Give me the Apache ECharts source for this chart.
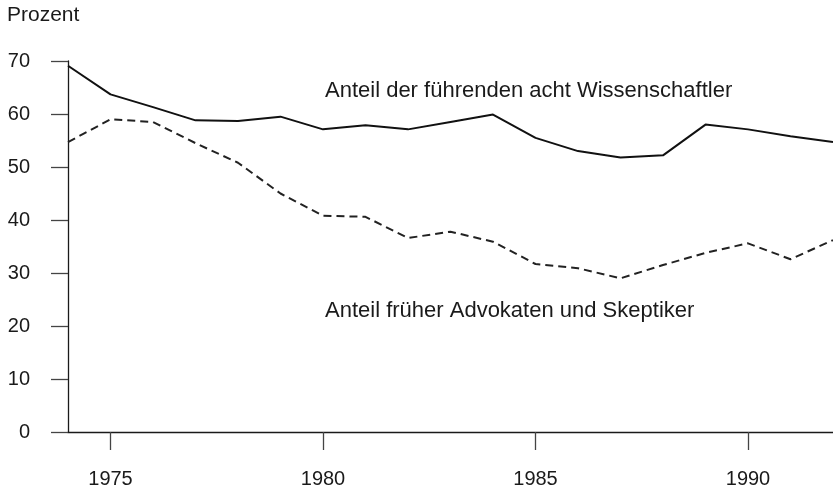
<!DOCTYPE html>
<html>
<head>
<meta charset="utf-8">
<script src="https://cdn.jsdelivr.net/npm/echarts@6/dist/echarts.min.js"></script>
<style>
  html, body { margin: 0; padding: 0; background: #fff; }
  #chart { width: 833px; height: 490px; }
</style>
</head>
<body>
<div id="chart"></div>
<script>
// Jahre und Werte (Prozent)
var years = [1974, 1975, 1976, 1977, 1978, 1979, 1980, 1981, 1982, 1983,
             1984, 1985, 1986, 1987, 1988, 1989, 1990, 1991, 1992];
var fuehrende = [69.1, 63.7, 61.3, 58.8, 58.7, 59.5, 57.1, 57.9, 57.1, 58.5,
                 59.9, 55.5, 53.0, 51.8, 52.2, 58.0, 57.1, 55.8, 54.7];
var advokaten = [54.7, 59.0, 58.5, 54.5, 50.8, 45.0, 40.8, 40.6, 36.6, 37.8,
                 35.9, 31.7, 30.9, 29.0, 31.5, 33.8, 35.6, 32.6, 36.2];
var xTicks = [1975, 1980, 1985, 1990];
var yTicks = [0, 10, 20, 30, 40, 50, 60, 70];

var font = "'Liberation Sans', Arial, Helvetica, sans-serif";
var ink = '#1a1a1a';

function pairs(xs, ys) {
  return xs.map(function (x, i) { return [x, ys[i]]; });
}

(function () {
  var myChart = echarts.init(document.querySelector('#chart'));
  var option = {
    animation: false,
    backgroundColor: '#fff',
    grid: { left: 68, top: 61, bottom: 58, width: 768, containLabel: false },
    xAxis: {
      type: 'value',
      min: 1974,
      max: 1992,
      splitLine: { show: false },
      axisLine: { show: true, onZero: false, lineStyle: { color: ink, width: 1.3 } },
      axisTick: { show: true, customValues: xTicks, length: 18, inside: false,
                  lineStyle: { color: '#444', width: 1.3 } },
      axisLabel: { customValues: xTicks, margin: 37, color: ink, fontSize: 20,
                   fontFamily: font, formatter: function (v) { return String(v); } }
    },
    yAxis: {
      type: 'value',
      min: 0,
      max: 70,
      interval: 10,
      splitLine: { show: false },
      axisLine: { show: true, lineStyle: { color: ink, width: 1.3 } },
      axisTick: { show: true, length: 17, lineStyle: { color: '#444', width: 1.3 } },
      axisLabel: { margin: 38, color: ink, fontSize: 20, fontFamily: font }
    },
    graphic: [
      { type: 'text', left: 7, top: 5,
        style: { text: 'Prozent', fill: ink, font: '21px ' + font } },
      { type: 'text', left: 325, top: 80,
        style: { text: 'Anteil der führenden acht Wissenschaftler', fill: ink, font: '22px ' + font } },
      { type: 'text', left: 325, top: 300,
        style: { text: 'Anteil früher Advokaten und Skeptiker', fill: ink, font: '22px ' + font } }
    ],
    series: [
      {
        name: 'Anteil der führenden acht Wissenschaftler',
        type: 'line',
        data: pairs(years, fuehrende),
        showSymbol: false,
        lineStyle: { color: '#111', width: 2, type: 'solid' },
        silent: true
      },
      {
        name: 'Anteil früher Advokaten und Skeptiker',
        type: 'line',
        data: pairs(years, advokaten),
        showSymbol: false,
        lineStyle: { color: '#222', width: 2, type: [8, 5] },
        silent: true
      }
    ]
  };
  myChart.setOption(option);
})();
</script>
</body>
</html>
